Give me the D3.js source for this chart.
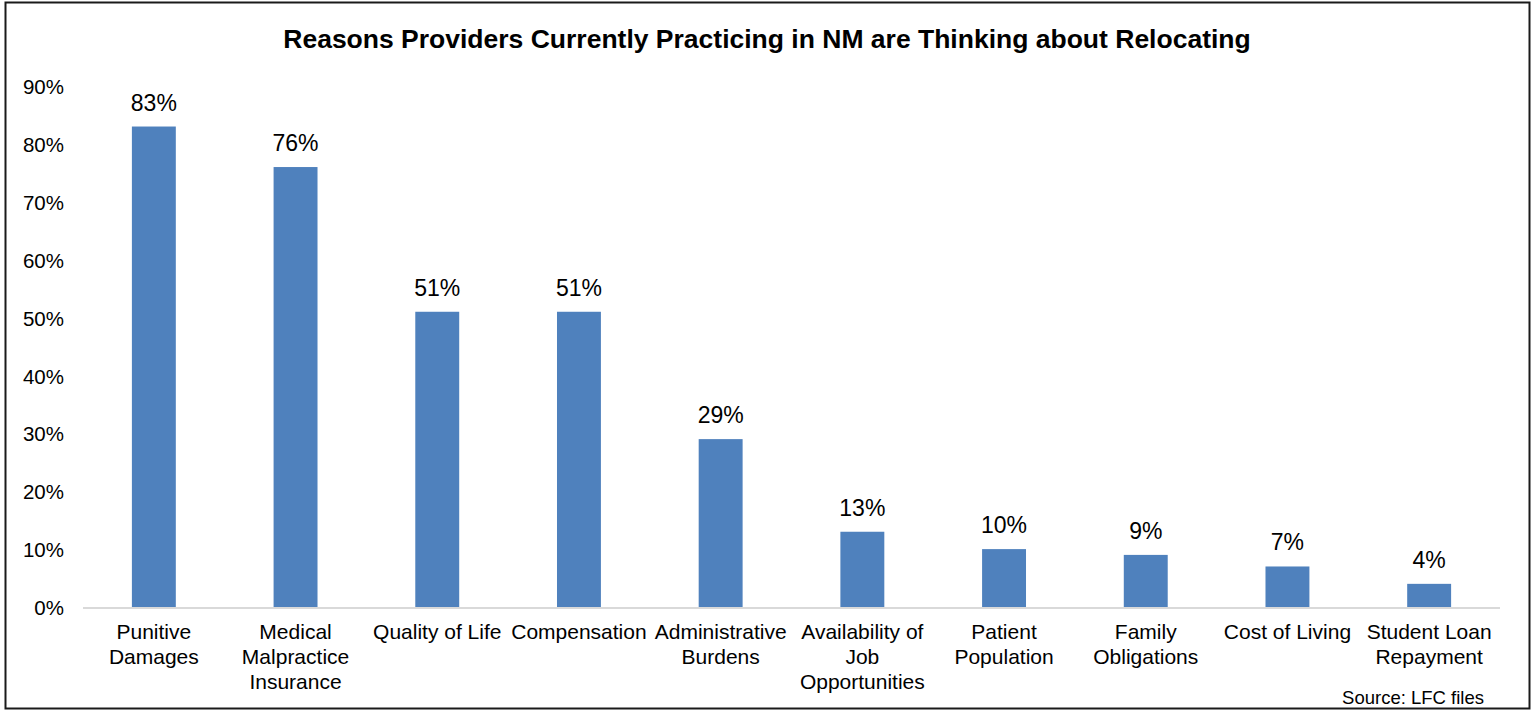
<!DOCTYPE html>
<html>
<head>
<meta charset="utf-8">
<script src="https://cdn.jsdelivr.net/npm/d3@7"></script>
<style>
  html, body { margin: 0; padding: 0; background: #fff; }
  svg { display: block; font-family: "Liberation Sans", Arial, sans-serif; }
</style>
</head>
<body>
<svg id="chart" width="1536" height="711"></svg>
<script>
// Survey results: share of providers citing each reason
const categories = [
  ["Punitive", "Damages"],
  ["Medical", "Malpractice", "Insurance"],
  ["Quality of Life"],
  ["Compensation"],
  ["Administrative", "Burdens"],
  ["Availability of", "Job", "Opportunities"],
  ["Patient", "Population"],
  ["Family", "Obligations"],
  ["Cost of Living"],
  ["Student Loan", "Repayment"]
];
const values = [83, 76, 51, 51, 29, 13, 10, 9, 7, 4];
const yTicks = [0, 10, 20, 30, 40, 50, 60, 70, 80, 90];
const titleText = "Reasons Providers Currently Practicing in NM are Thinking about Relocating";
const sourceText = "Source: LFC files";

(function draw() {
  const svg = d3.select("#chart");

  // Outer frame
  svg.append("rect")
    .attr("x", 5.5).attr("y", 2.5)
    .attr("width", 1524).attr("height", 706)
    .attr("fill", "#fff").attr("stroke", "#1a1a1a").attr("stroke-width", 2);

  const plot = { left: 83, right: 1500, top: 86, bottom: 607 };
  const keys = d3.range(categories.length);

  const x = d3.scaleBand().domain(keys).range([plot.left, plot.right])
    .paddingInner(0.69).paddingOuter(0.345);
  const y = d3.scaleLinear().domain([0, 90]).range([plot.bottom, plot.top]);

  // Title
  svg.append("text")
    .attr("x", 767).attr("y", 48)
    .attr("text-anchor", "middle")
    .attr("font-size", 26.5).attr("font-weight", "bold").attr("fill", "#000")
    .text(titleText);

  // Y axis labels
  const yAxis = d3.axisLeft(y).tickValues(yTicks).tickFormat(d => d + "%").tickSize(0).tickPadding(0);
  const yg = svg.append("g").attr("transform", "translate(64,0)").call(yAxis);
  yg.select(".domain").remove();
  yg.selectAll("text").attr("font-size", 20.5).attr("fill", "#000").attr("dy", "0.37em")
    .attr("font-family", "'Liberation Sans', Arial, sans-serif");

  // Bars
  svg.append("g").selectAll("rect")
    .data(values)
    .join("rect")
    .attr("x", (d, i) => x(i))
    .attr("y", d => y(d))
    .attr("width", x.bandwidth())
    .attr("height", d => y(0) - y(d))
    .attr("fill", "#4F81BD");

  // Value labels
  svg.append("g").selectAll("text")
    .data(values)
    .join("text")
    .attr("x", (d, i) => x(i) + x.bandwidth() / 2)
    .attr("y", d => y(d) - 16)
    .attr("text-anchor", "middle")
    .attr("font-size", 23).attr("fill", "#000")
    .text(d => d + "%");

  // X axis baseline
  const xAxis = d3.axisBottom(x).tickSize(0).tickFormat("");
  const xg = svg.append("g").attr("transform", `translate(0,${plot.bottom + 1})`).call(xAxis);
  xg.select(".domain").attr("stroke", "#d9d9d9").attr("stroke-width", 2)
    .attr("d", `M${plot.left},0H${plot.right}`);

  // Category labels (multi-line)
  const catG = svg.append("g").selectAll("text")
    .data(categories)
    .join("text")
    .attr("x", (d, i) => x(i) + x.bandwidth() / 2)
    .attr("y", 639)
    .attr("text-anchor", "middle")
    .attr("font-size", 21).attr("fill", "#000");
  catG.each(function(lines) {
    const t = d3.select(this);
    lines.forEach((ln, j) => {
      t.append("tspan")
        .attr("x", t.attr("x"))
        .attr("dy", j === 0 ? 0 : 24.8)
        .text(ln);
    });
  });

  // Source note
  svg.append("text")
    .attr("x", 1484).attr("y", 704)
    .attr("text-anchor", "end")
    .attr("font-size", 18.5).attr("fill", "#000")
    .text(sourceText);
})();
</script>
</body>
</html>
